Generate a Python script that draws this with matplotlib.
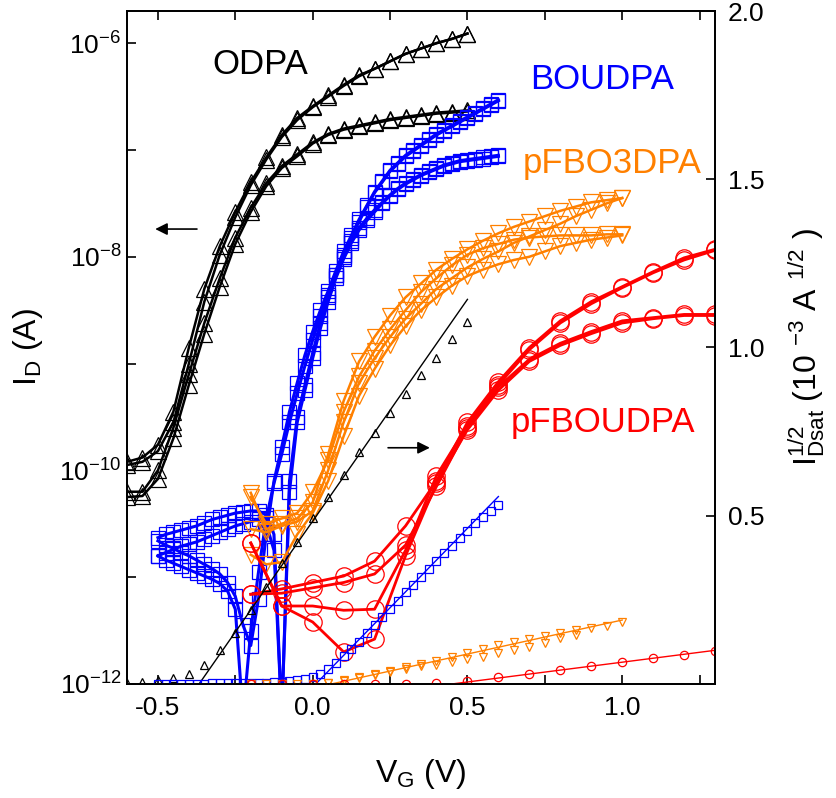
import numpy as np
import matplotlib
matplotlib.use('Agg')
import matplotlib.pyplot as plt
from matplotlib.ticker import FuncFormatter, FixedLocator

plt.rcParams['font.family'] = ['Liberation Sans', 'DejaVu Sans']
plt.rcParams['mathtext.fontset'] = 'custom'
plt.rcParams['mathtext.rm'] = 'Liberation Sans'
plt.rcParams['mathtext.it'] = 'Liberation Sans:italic'
plt.rcParams['mathtext.bf'] = 'Liberation Sans:bold'
plt.rcParams['axes.unicode_minus'] = False

# ---------------- data: transfer curves, log10(I_D / A) ----------------
vg_odpa = [-0.60, -0.55, -0.50, -0.45, -0.40, -0.35, -0.30, -0.25, -0.20, -0.15, -0.10, -0.05,
           0.00, 0.05, 0.10, 0.15, 0.20, 0.25, 0.30, 0.35, 0.40, 0.45, 0.50]
odpa_a1 = [-9.92, -9.88, -9.76, -9.45, -8.85, -8.30, -7.90, -7.58, -7.30, -7.07, -6.86, -6.70,
           -6.59, -6.49, -6.39, -6.30, -6.24, -6.17, -6.10, -6.05, -6.00, -5.96, -5.91]
odpa_a2 = [-9.95, -9.92, -9.82, -9.55, -9.00, -8.42, -7.98, -7.63, -7.33, -7.09, -6.88, -6.72,
           -6.60, -6.50, -6.40, -6.31, -6.24, -6.17, -6.10, -6.05, -6.00, -5.96, -5.91]
odpa_a3 = [-10.25, -10.24, -10.08, -9.70, -9.20, -8.72, -8.28, -7.88, -7.58, -7.34, -7.17, -7.06,
           -6.94, -6.86, -6.81, -6.78, -6.75, -6.72, -6.70, -6.68, -6.66, -6.65, -6.64]
odpa_a4 = [-10.20, -10.20, -10.00, -9.60, -9.10, -8.62, -8.20, -7.82, -7.54, -7.31, -7.15, -7.04,
           -6.93, -6.85, -6.80, -6.77, -6.74, -6.71, -6.69, -6.67, -6.65, -6.64, -6.63]

vg_boudpa = [-0.500, -0.475, -0.450, -0.425, -0.400, -0.375, -0.350, -0.325, -0.300, -0.275,
             -0.250, -0.225, -0.200, -0.175, -0.150, -0.125, -0.100, -0.075, -0.050, -0.025,
             0.000, 0.025, 0.050, 0.075, 0.100, 0.125, 0.150, 0.175, 0.200, 0.225, 0.250,
             0.275, 0.300, 0.325, 0.350, 0.375, 0.400, 0.425, 0.450, 0.475, 0.500, 0.525,
             0.550, 0.575, 0.600]
boudpa_b1 = [-10.63, -10.60, -10.58, -10.56, -10.54, -10.52, -10.49, -10.46, -10.44, -10.42,
             -10.40, -10.39, -10.38, -10.38, -10.42, -10.60, -12.30, -10.10, -9.50, -9.20,
             -8.90, -8.62, -8.38, -8.17, -7.98, -7.82, -7.67, -7.53, -7.40, -7.30, -7.20,
             -7.13, -7.06, -7.01, -6.96, -6.91, -6.86, -6.82, -6.78, -6.74, -6.70, -6.66,
             -6.62, -6.58, -6.54]
boudpa_b2 = [-10.80, -10.77, -10.74, -10.71, -10.69, -10.67, -10.64, -10.61, -10.58, -10.55,
             -10.52, -10.50, -10.48, -10.46, -10.50, -10.75, -12.30, -10.20, -9.55, -9.25,
             -8.95, -8.67, -8.42, -8.20, -8.02, -7.87, -7.75, -7.66, -7.58, -7.50, -7.43,
             -7.37, -7.32, -7.28, -7.24, -7.21, -7.18, -7.15, -7.13, -7.11, -7.10, -7.09,
             -7.08, -7.07, -7.06]
boudpa_b3 = [-10.66, -10.70, -10.73, -10.77, -10.80, -10.84, -10.88, -10.92, -10.97, -11.05,
             -11.18, -11.45, -11.64, -11.20, -10.60, -10.10, -9.78, -9.45, -9.18, -8.92,
             -8.70, -8.50, -8.32, -8.13, -7.95, -7.80, -7.65, -7.52, -7.39, -7.29, -7.19,
             -7.12, -7.05, -7.00, -6.95, -6.90, -6.85, -6.81, -6.77, -6.73, -6.69, -6.65,
             -6.61, -6.57, -6.53]
boudpa_b4 = [-10.80, -10.84, -10.87, -10.90, -10.93, -10.96, -10.99, -11.02, -11.06, -11.13,
             -11.30, -12.30, -11.50, -10.95, -10.45, -10.12, -9.85, -9.55, -9.28, -9.02,
             -8.78, -8.55, -8.36, -8.17, -8.00, -7.85, -7.73, -7.64, -7.56, -7.49, -7.42,
             -7.36, -7.31, -7.27, -7.23, -7.20, -7.17, -7.14, -7.12, -7.10, -7.09, -7.08,
             -7.07, -7.06, -7.05]

vg_pfbo3 = [-0.20, -0.15, -0.10, -0.05, 0.00, 0.05, 0.10, 0.15, 0.20, 0.25, 0.30, 0.35, 0.40,
            0.45, 0.50, 0.55, 0.60, 0.65, 0.70, 0.75, 0.80, 0.85, 0.90, 0.95, 1.00]
pfbo3_o1 = [-10.21, -10.55, -10.50, -10.45, -10.30, -9.85, -9.35, -8.98, -8.75, -8.55, -8.38,
            -8.25, -8.12, -8.02, -7.93, -7.85, -7.78, -7.72, -7.67, -7.62, -7.57, -7.53, -7.49,
            -7.47, -7.45]
pfbo3_o2 = [-10.55, -10.58, -10.52, -10.48, -10.38, -10.00, -9.55, -9.18, -8.95, -8.75, -8.58,
            -8.44, -8.30, -8.20, -8.10, -8.02, -7.95, -7.87, -7.81, -7.75, -7.69, -7.62, -7.56,
            -7.50, -7.45]
pfbo3_o3 = [-10.25, -10.50, -10.45, -10.40, -10.20, -9.90, -9.45, -9.12, -8.88, -8.68, -8.50,
            -8.33, -8.20, -8.08, -7.98, -7.92, -7.88, -7.84, -7.82, -7.81, -7.80, -7.80, -7.80,
            -7.79, -7.79]
pfbo3_o4 = [-10.79, -10.88, -10.86, -10.60, -10.40, -10.10, -9.68, -9.30, -9.05, -8.83, -8.65,
            -8.50, -8.38, -8.27, -8.18, -8.12, -8.07, -8.03, -8.00, -7.95, -7.90, -7.87, -7.84,
            -7.82, -7.80]

vg_pfbou = [-0.2, -0.1, 0.0, 0.1, 0.2, 0.3, 0.4, 0.5, 0.6, 0.7, 0.8, 0.9, 1.0, 1.1, 1.2, 1.3]
pfbou_r1 = [-11.16, -11.11, -11.05, -10.99, -10.85, -10.52, -10.10, -9.55, -9.17, -8.85, -8.60,
            -8.42, -8.28, -8.14, -8.01, -7.93]
pfbou_r2 = [-10.68, -11.27, -11.27, -11.31, -11.30, -10.75, -10.05, -9.58, -9.20, -8.87, -8.62,
            -8.44, -8.29, -8.15, -8.03, -7.94]
pfbou_r3 = [-11.16, -11.15, -11.10, -11.05, -10.97, -10.70, -10.15, -9.60, -9.22, -8.96, -8.81,
            -8.70, -8.60, -8.57, -8.54, -8.54]
pfbou_r4 = [-10.68, -11.27, -11.42, -11.70, -11.58, -10.80, -10.12, -9.62, -9.25, -8.98, -8.83,
            -8.72, -8.62, -8.58, -8.55, -8.55]

# ---------------- data: sqrt(I_Dsat), 1e-3 A^1/2 ----------------
odpa_sqrt = [0.003, 0.006, 0.012, 0.018, 0.030, 0.055, 0.100, 0.152, 0.220, 0.289, 0.360, 0.423,
             0.494, 0.557, 0.622, 0.688, 0.747, 0.804, 0.862, 0.917, 0.969, 1.024, 1.075]
odpa_fit_v = [-0.367, 0.50]
odpa_fit_s = [0.0, 1.143]

boudpa_sqrt = [0.000, 0.000, 0.000, 0.001, 0.001, 0.001, 0.001, 0.002, 0.002, 0.002,
               0.003, 0.003, 0.003, 0.004, 0.004, 0.005, 0.006, 0.008, 0.012, 0.016,
               0.022, 0.031, 0.045, 0.062, 0.082, 0.103, 0.125, 0.150, 0.175, 0.200, 0.224,
               0.248, 0.272, 0.295, 0.319, 0.342, 0.365, 0.389, 0.411, 0.434, 0.456, 0.477,
               0.497, 0.515, 0.531]
boudpa_fit_v = [0.01, 0.60]
boudpa_fit_s = [0.0, 0.557]

pfbo3_sqrt = [0.000, 0.000, 0.000, 0.000, 0.001, 0.003, 0.012, 0.022, 0.030, 0.040, 0.049,
              0.058, 0.067, 0.080, 0.091, 0.103, 0.115, 0.125, 0.133, 0.143, 0.151, 0.160,
              0.166, 0.172, 0.185]
vg_pfbo3_b = [0.00, 0.05, 0.10, 0.15, 0.20, 0.25, 0.30, 0.35, 0.40, 0.45, 0.50, 0.55, 0.60,
              0.65, 0.70, 0.75, 0.80, 0.85]
pfbo3_sqrt_b = [0.000, 0.002, 0.010, 0.018, 0.026, 0.035, 0.044, 0.052, 0.057, 0.066, 0.073,
                0.081, 0.091, 0.101, 0.111, 0.123, 0.136, 0.146]
pfbo3_fit_v = [0.06, 1.0]
pfbo3_fit_s = [0.0, 0.19]

pfbou_sqrt = [0.000, 0.000, 0.000, 0.000, 0.000, 0.001, 0.004, 0.010, 0.020, 0.031, 0.042,
              0.054, 0.064, 0.077, 0.087, 0.099]
pfbou_fit_v = [0.45, 1.3]
pfbou_fit_s = [0.0, 0.10]

BLACK = '#000000'
BLUE = '#0000FF'
ORANGE = '#FF8000'
RED = '#FF0000'

fig = plt.figure(figsize=(8.37, 7.98), dpi=100)
ax = fig.add_axes([0.1517, 0.1429, 0.7026, 0.8433])
ax2 = ax.twinx()

def logc(arr):
    return np.power(10.0, np.asarray(arr))

for arr in (odpa_a1, odpa_a2, odpa_a3, odpa_a4):
    ax.plot(vg_odpa, logc(arr), color=BLACK, lw=1.8, marker='^', ms=11,
            mfc='none', mec=BLACK, mew=0.9)
for arr in (boudpa_b1, boudpa_b2, boudpa_b3, boudpa_b4):
    ax.plot(vg_boudpa, logc(arr), color=BLUE, lw=2.2, marker='s', ms=10.5,
            mfc='none', mec=BLUE, mew=0.9)
for arr in (pfbo3_o1, pfbo3_o2, pfbo3_o3, pfbo3_o4):
    ax.plot(vg_pfbo3, logc(arr), color=ORANGE, lw=1.8, marker='v', ms=12,
            mfc='none', mec=ORANGE, mew=0.9)
for arr in (pfbou_r1, pfbou_r2, pfbou_r3, pfbou_r4):
    ax.plot(vg_pfbou, logc(arr), color=RED, lw=2.0, marker='o', ms=12.5,
            mfc='none', mec=RED, mew=0.9)

# sqrt plots on right axis
ax2.plot(odpa_fit_v, odpa_fit_s, color=BLACK, lw=1.0)
ax2.plot(vg_odpa, odpa_sqrt, ls='none', marker='^', ms=5.5, mfc='none', mec=BLACK, mew=0.9)
ax2.plot(boudpa_fit_v, boudpa_fit_s, color=BLUE, lw=1.0)
ax2.plot(vg_boudpa, boudpa_sqrt, ls='none', marker='s', ms=5.5, mfc='none', mec=BLUE, mew=0.9)
ax2.plot(pfbo3_fit_v, pfbo3_fit_s, color=ORANGE, lw=1.0)
ax2.plot(vg_pfbo3, pfbo3_sqrt, ls='none', marker='v', ms=6, mfc='none', mec=ORANGE, mew=0.9)
ax2.plot(vg_pfbo3_b, pfbo3_sqrt_b, ls='none', marker='v', ms=6, mfc='none', mec=ORANGE, mew=0.9)
ax2.plot(pfbou_fit_v, pfbou_fit_s, color=RED, lw=1.0)
ax2.plot(vg_pfbou, pfbou_sqrt, ls='none', marker='o', ms=6, mfc='none', mec=RED, mew=0.9)

# axes setup
ax.set_xlim(-0.6, 1.3)
ax.set_yscale('log')
ax.set_ylim(1e-12, 2.0e-6)
ax2.set_ylim(0, 2.0)

ax.xaxis.set_major_locator(FixedLocator([-0.5, 0.0, 0.5, 1.0]))
ax.xaxis.set_minor_locator(FixedLocator([-0.25, 0.25, 0.75, 1.25]))
ax.xaxis.set_major_formatter(FuncFormatter(lambda v, p: '%.1f' % v))
ax.yaxis.set_major_locator(FixedLocator([1e-12, 1e-10, 1e-8, 1e-6]))
ax.yaxis.set_minor_locator(FixedLocator([1e-11, 1e-9, 1e-7]))
ax.yaxis.set_major_formatter(FuncFormatter(
    lambda v, p: r'$\mathregular{10^{%d}}$' % int(round(np.log10(v)))))
ax.yaxis.set_minor_formatter(FuncFormatter(lambda v, p: ''))
ax2.yaxis.set_major_locator(FixedLocator([0.5, 1.0, 1.5, 2.0]))
ax2.yaxis.set_major_formatter(FuncFormatter(lambda v, p: '%.1f' % v))

ax.tick_params(axis='x', which='both', direction='in', top=True, bottom=True,
               length=6.5, width=1.2, labelsize=19, pad=9)
ax.tick_params(axis='y', which='both', direction='in', left=True, right=False,
               length=6.5, width=1.2, labelsize=19, pad=4)
ax2.tick_params(axis='y', which='both', direction='in', length=6.5, width=1.2,
                labelsize=19, pad=9)

for a in (ax, ax2):
    for s in a.spines.values():
        s.set_linewidth(1.3)

ax.set_xlabel(r'V$_{\mathregular{G}}$ (V)', fontsize=23, labelpad=26)
ax.set_ylabel(r'I$_{\mathregular{D}}$ (A)', fontsize=23, labelpad=10)
ax2.set_ylabel(r'I$^{\mathregular{1/2}}_{\mathregular{Dsat}}$ (10 $^{\mathregular{-3}}$ A $^{\mathregular{1/2}}$ )',
               fontsize=23, labelpad=16)

# annotations
ax.text(0.226, 0.906, 'ODPA', transform=ax.transAxes, ha='center', va='baseline',
        fontsize=25, color=BLACK)
ax.text(0.808, 0.884, 'BOUDPA', transform=ax.transAxes, ha='center', va='baseline',
        fontsize=25, color=BLUE)
ax.text(0.825, 0.759, 'pFBO3DPA', transform=ax.transAxes, ha='center', va='baseline',
        fontsize=25, color=ORANGE)
ax.text(0.81, 0.374, 'pFBOUDPA', transform=ax.transAxes, ha='center', va='baseline',
        fontsize=25, color=RED)

arrow_kw = dict(arrowstyle='-|>', color='black', lw=1.2, mutation_scale=18,
                shrinkA=0, shrinkB=0)
ax.annotate('', xy=(0.048, 0.676), xytext=(0.119, 0.676), xycoords='axes fraction',
            textcoords='axes fraction', arrowprops=arrow_kw)
ax.annotate('', xy=(0.515, 0.351), xytext=(0.444, 0.351), xycoords='axes fraction',
            textcoords='axes fraction', arrowprops=arrow_kw)

fig.savefig('out.png', dpi=100)
